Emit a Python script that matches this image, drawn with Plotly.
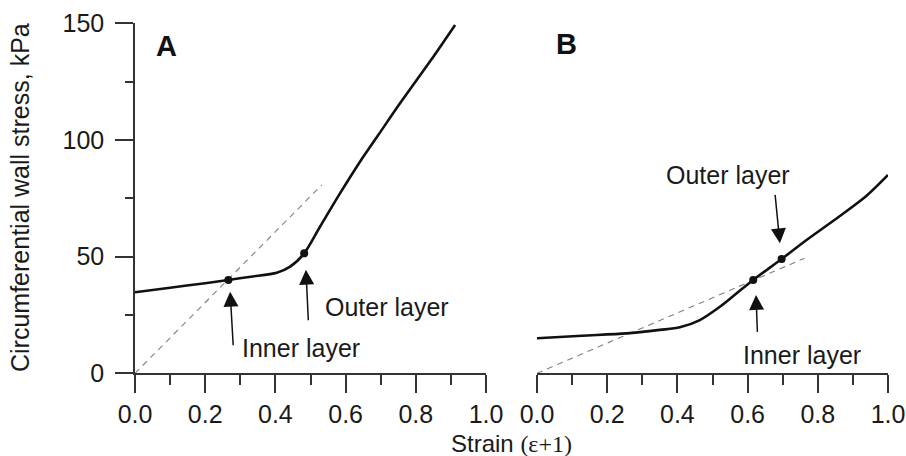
import plotly.graph_objects as go

# ---- data ----
strain_a = [0.0, 0.10, 0.20, 0.266, 0.33, 0.404, 0.442, 0.482, 0.527, 0.584, 0.641, 0.693, 0.755, 0.850, 0.912]
stress_a = [34.7, 36.7, 38.6, 40.0, 41.4, 43.1, 45.7, 51.4, 62.8, 77.1, 90.7, 102.1, 115.7, 135.7, 149.3]
strain_b = [0.0, 0.128, 0.255, 0.350, 0.407, 0.464, 0.521, 0.569, 0.616, 0.697, 0.768, 0.863, 0.939, 1.0]
stress_b = [15.0, 16.1, 17.1, 18.6, 19.7, 22.8, 28.5, 34.3, 40.0, 49.0, 57.1, 67.4, 76.1, 85.0]

dash_a_x = [0.0, 0.532]
dash_a_y = [0.0, 80.7]
dash_b_x = [0.0, 0.762]
dash_b_y = [0.0, 49.3]

points_a_x = [0.266, 0.482]
points_a_y = [40.0, 51.4]
points_b_x = [0.616, 0.697]
points_b_y = [40.0, 49.0]

x_ticks = [0.0, 0.2, 0.4, 0.6, 0.8, 1.0]
y_ticks = [0, 50, 100, 150]

FONT = "Liberation Sans, Arial, sans-serif"
TXT = "#1a1a1a"
AX = "#333333"
FS = 25

fig = go.Figure()

# panel A
fig.add_trace(go.Scatter(x=dash_a_x, y=dash_a_y, mode="lines",
                         line=dict(color="#808080", width=1.1, dash="6px,5px"),
                         xaxis="x", yaxis="y", cliponaxis=False, hoverinfo="skip"))
fig.add_trace(go.Scatter(x=strain_a, y=stress_a, mode="lines",
                         line=dict(color="#111111", width=2.6, shape="spline", smoothing=0.8),
                         xaxis="x", yaxis="y", cliponaxis=False))
fig.add_trace(go.Scatter(x=points_a_x, y=points_a_y, mode="markers",
                         marker=dict(color="#111111", size=8),
                         xaxis="x", yaxis="y", cliponaxis=False))
# panel B
fig.add_trace(go.Scatter(x=dash_b_x, y=dash_b_y, mode="lines",
                         line=dict(color="#808080", width=1.1, dash="6px,5px"),
                         xaxis="x2", yaxis="y2", cliponaxis=False, hoverinfo="skip"))
fig.add_trace(go.Scatter(x=strain_b, y=stress_b, mode="lines",
                         line=dict(color="#111111", width=2.6, shape="spline", smoothing=0.8),
                         xaxis="x2", yaxis="y2", cliponaxis=False))
fig.add_trace(go.Scatter(x=points_b_x, y=points_b_y, mode="markers",
                         marker=dict(color="#111111", size=8),
                         xaxis="x2", yaxis="y2", cliponaxis=False))

xcommon = dict(range=[0, 1], tickvals=x_ticks, tickformat=".1f",
               showline=True, linecolor=AX, linewidth=1.5,
               ticks="outside", ticklen=18, tickwidth=1.5, tickcolor=AX,
               minor=dict(dtick=0.1, tick0=0, ticks="outside", ticklen=10, tickwidth=1.5, tickcolor=AX, showgrid=False),
               showgrid=False, zeroline=False, automargin=False,
               tickfont=dict(family=FONT, size=FS, color=TXT), ticklabelstandoff=0)

y0 = 1 - 373.3 / 456
y1 = 1 - 23.3 / 456

fig.update_layout(
    width=906, height=456,
    margin=dict(l=0, r=0, t=0, b=0, autoexpand=False),
    paper_bgcolor="white", plot_bgcolor="white",
    showlegend=False,
    xaxis=dict(domain=[135 / 906, 486 / 906], anchor="y", **xcommon),
    xaxis2=dict(domain=[537 / 906, 888 / 906], anchor="y2", **xcommon),
    yaxis=dict(domain=[y0, y1], anchor="x", range=[0, 150], tickvals=y_ticks,
               showline=True, linecolor=AX, linewidth=1.5,
               ticks="outside", ticklen=18, tickwidth=1.5, tickcolor=AX,
               minor=dict(dtick=25, tick0=0, ticks="outside", ticklen=8, tickwidth=1.5, tickcolor=AX, showgrid=False),
               showgrid=False, zeroline=False, automargin=False,
               tickfont=dict(family=FONT, size=FS, color=TXT), ticklabelstandoff=6),
    yaxis2=dict(domain=[y0, y1], anchor="x2", range=[0, 150], visible=False),
    font=dict(family=FONT, size=FS, color=TXT),
)

ann = []
# axis titles
ann.append(dict(text="Circumferential wall stress, kPa", xref="paper", yref="paper",
                x=20 / 906, y=1 - 198 / 456, textangle=-90, showarrow=False,
                xanchor="center", yanchor="middle", font=dict(size=FS)))
ann.append(dict(text="Strain <span style='font-family:Liberation Serif, Times New Roman, serif'>(ε+1)</span>",
                xref="paper", yref="paper", x=511 / 906, y=1 - 443 / 456, showarrow=False,
                xanchor="center", yanchor="middle", borderpad=0, font=dict(size=24)))
# panel letters
ann.append(dict(text="<b>A</b>", xref="paper", yref="paper", x=166.5 / 906, y=1 - 46 / 456,
                showarrow=False, xanchor="center", yanchor="middle", font=dict(size=29, color="#111111")))
ann.append(dict(text="<b>B</b>", xref="paper", yref="paper", x=566.5 / 906, y=1 - 44 / 456,
                showarrow=False, xanchor="center", yanchor="middle", font=dict(size=29, color="#111111")))

# arrows: (xaxis, yaxis, tip_x, tip_y, tail_x, tail_y)
arrows = [
    ("x", "y", 0.271, 35.0, 0.280, 11.4),
    ("x", "y", 0.487, 44.4, 0.494, 22.1),
    ("x2", "y2", 0.692, 55.7, 0.678, 77.1),
    ("x2", "y2", 0.624, 33.6, 0.628, 17.1),
]
for xr, yr, tx, ty, sx, sy in arrows:
    ann.append(dict(text="", xref=xr, yref=yr, x=tx, y=ty, axref=xr, ayref=yr, ax=sx, ay=sy,
                    showarrow=True, arrowhead=2, arrowsize=2.0, arrowwidth=1.5, arrowcolor="#111111",
                    standoff=0, startstandoff=0))

# layer labels: (xaxis, yaxis, x, y, anchor, text)
labels = [
    ("x", "y", 0.299, 10.8, "left", "Inner layer"),
    ("x", "y", 0.536, 28.4, "left", "Outer layer"),
    ("x2", "y2", 0.544, 85.0, "center", "Outer layer"),
    ("x2", "y2", 0.580, 7.8, "left", "Inner layer"),
]
for xr, yr, lx, ly, anc, t in labels:
    ann.append(dict(text=t, xref=xr, yref=yr, x=lx, y=ly, showarrow=False,
                    xanchor=anc, yanchor="middle", font=dict(size=FS)))

fig.update_layout(annotations=ann)
fig.write_html("out.html")
